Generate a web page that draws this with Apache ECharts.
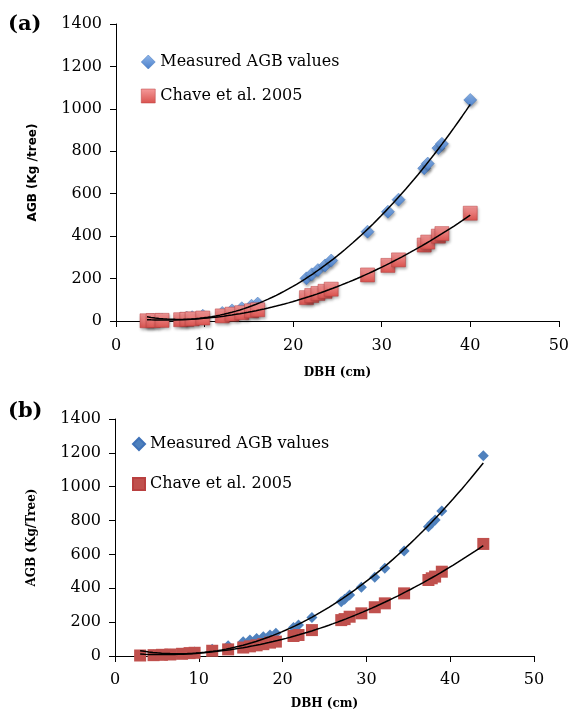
<!DOCTYPE html>
<html style='height: 100%'>
<head>
    <meta charset='utf-8'>
</head>
<body style='height: 100%; margin: 0; background: #fff'>
    <div id='container' style='width: 572px; height: 711px'></div>
    <script type='text/javascript' src='https://cdn.jsdelivr.net/npm/echarts@6/dist/echarts.min.js'></script>
    <script type="text/javascript">

// panel (a) - DBH (cm) and AGB (kg/tree)
var dbhA = [3.5, 4.2, 5.2, 7.3, 8.0, 8.6, 9.8, 12.0, 13.1, 14.2, 15.3, 16.0,
            21.5, 22.1, 22.8, 23.6, 24.3, 28.4, 30.7, 31.9, 34.8, 35.2, 36.4, 36.8, 40.0];
var measuredA = [3, 4, 6, 12, 15, 18, 25, 38, 50, 60, 72, 82,
                 201, 220, 240, 262, 285, 421, 515, 572, 720, 742, 815, 835, 1042];
var chaveA = [1, 2, 3, 6, 8, 10, 14, 24, 32, 39, 48, 53,
              110, 120, 130, 140, 150, 217, 262, 288, 358, 372, 400, 412, 508];

// panel (b)
var dbhB = [3.0, 4.6, 5.6, 6.6, 8.0, 8.9, 9.5, 11.6, 13.5, 15.3, 16.1, 16.9, 17.7, 18.5, 19.2,
            21.3, 21.9, 23.5, 27.0, 27.4, 28.0, 29.4, 31.0, 32.2, 34.5, 37.4, 37.8, 38.2, 39.0, 43.95];
var measuredB = [4, 6, 8, 11, 16, 20, 24, 40, 61, 84, 94, 104, 114, 124, 134,
                 169, 183, 228, 321, 335, 360, 406, 465, 518, 620, 764, 784, 803, 857, 1183];
var chaveB = [3, 5, 7, 9, 13, 17, 19, 31, 39, 50, 57, 63, 70, 79, 85,
              118, 124, 153, 212, 218, 232, 252, 288, 311, 370, 449, 459, 469, 498, 662];

var xTicks = [0, 10, 20, 30, 40, 50];
var yTicks = [0, 200, 400, 600, 800, 1000, 1200, 1400];

var nameMeasured = 'Measured AGB values';
var nameChave = 'Chave et al. 2005';

function pairs(xs, ys) {
    var out = [];
    for (var i = 0; i < xs.length; i++) out.push([xs[i], ys[i]]);
    return out;
}

// 2nd order polynomial trendline (least squares), like the spreadsheet one
function polyTrend(xs, ys) {
    var s = [0, 0, 0, 0, 0], t = [0, 0, 0];
    for (var i = 0; i < xs.length; i++) {
        var p = 1;
        for (var k = 0; k < 5; k++) { s[k] += p; if (k < 3) t[k] += p * ys[i]; p *= xs[i]; }
    }
    var m = [[s[0], s[1], s[2], t[0]], [s[1], s[2], s[3], t[1]], [s[2], s[3], s[4], t[2]]];
    for (var c = 0; c < 3; c++) {
        for (var r = c + 1; r < 3; r++) {
            var f = m[r][c] / m[c][c];
            for (var j = c; j < 4; j++) m[r][j] -= f * m[c][j];
        }
    }
    var b = [0, 0, 0];
    for (var r = 2; r >= 0; r--) {
        var v = m[r][3];
        for (var j = r + 1; j < 3; j++) v -= m[r][j] * b[j];
        b[r] = v / m[r][r];
    }
    var lo = Math.min.apply(null, xs), hi = Math.max.apply(null, xs);
    var pts = [];
    for (var n = 0; n <= 80; n++) {
        var x = lo + (hi - lo) * n / 80;
        pts.push([x, b[0] + b[1] * x + b[2] * x * x]);
    }
    return pts;
}

var serif = 'DejaVu Serif';

function grad(c1, c2) {
    return { type: 'linear', x: 0, y: 0, x2: 0, y2: 1, colorStops: [{ offset: 0, color: c1 }, { offset: 1, color: c2 }] };
}
var blueA = grad('#8fb6ea', '#4a7fc9');
var redA = grad('#f59a9a', '#d9534f');

function xAxisOpt(idx, gap, margin) {
    return {
        gridIndex: idx, type: 'value', min: xTicks[0], max: xTicks[xTicks.length - 1], interval: xTicks[1] - xTicks[0],
        name: 'DBH (cm)', nameLocation: 'middle', nameGap: gap,
        nameTextStyle: { fontFamily: serif, fontWeight: 'bold', fontSize: 12, color: '#000' },
        axisLine: { lineStyle: { color: '#000', width: 1 } },
        axisTick: { show: true, length: 6, lineStyle: { color: '#000' } },
        axisLabel: { fontFamily: serif, fontSize: 16, color: '#000', margin: margin },
        splitLine: { show: false }
    };
}
function yAxisOpt(idx, name, font) {
    return {
        gridIndex: idx, type: 'value', min: yTicks[0], max: yTicks[yTicks.length - 1], interval: yTicks[1] - yTicks[0],
        name: name, nameLocation: 'middle', nameGap: 77, nameRotate: 90,
        nameTextStyle: { fontFamily: font, fontWeight: 'bold', fontSize: 12, color: '#000' },
        axisLine: { show: true, lineStyle: { color: '#000', width: 1 } },
        axisTick: { show: true, length: 6, lineStyle: { color: '#000' } },
        axisLabel: { fontFamily: serif, fontSize: 16, color: '#000', margin: 14,
                     formatter: function (v) { return String(v); } },
        splitLine: { show: false }
    };
}

var chart = echarts.init(document.getElementById('container'));

var option = {
    backgroundColor: '#fff',
    animation: false,
    title: [
        { text: '(a)', left: 8, top: 14, padding: 0, textStyle: { fontFamily: serif, fontWeight: 'bold', fontSize: 21, color: '#000' } },
        { text: '(b)', left: 8, top: 401, padding: 0, textStyle: { fontFamily: serif, fontWeight: 'bold', fontSize: 21, color: '#000' } }
    ],
    grid: [
        { left: 116, top: 24, width: 443, height: 297 },
        { left: 115, top: 419, width: 419, height: 237 }
    ],
    legend: [
        {
            orient: 'vertical', left: 141, top: 52, padding: 0, itemWidth: 14, itemHeight: 14, itemGap: 14,
            selectedMode: false,
            textStyle: { fontFamily: serif, fontSize: 16, color: '#000', lineHeight: 20 },
            data: [
                { name: nameMeasured, icon: 'diamond', itemStyle: { color: blueA, borderColor: '#3f72b8', borderWidth: 0.5 } },
                { name: nameChave, icon: 'rect', itemStyle: { color: redA, borderColor: '#b94040', borderWidth: 0.5 } }
            ]
        },
        {
            orient: 'vertical', left: 132, top: 434, padding: 0, itemWidth: 12, itemHeight: 12, itemGap: 20,
            selectedMode: false,
            textStyle: { fontFamily: serif, fontSize: 16, color: '#000', lineHeight: 20 },
            data: [
                { name: nameMeasured, icon: 'diamond', itemStyle: { color: '#4f81bd' } },
                { name: nameChave, icon: 'rect', itemStyle: { color: '#c0504d' } }
            ]
        }
    ],
    xAxis: [xAxisOpt(0, 46, 17), xAxisOpt(1, 42, 16)],
    yAxis: [yAxisOpt(0, 'AGB (Kg /tree)', 'DejaVu Sans'), yAxisOpt(1, 'AGB (Kg/Tree)', serif)],
    series: [
        {
            name: nameMeasured, type: 'scatter', xAxisIndex: 0, yAxisIndex: 0,
            symbol: 'diamond', symbolSize: 13, data: pairs(dbhA, measuredA), z: 2,
            itemStyle: { color: blueA, borderColor: '#3f72b8', borderWidth: 0.5, opacity: 1,
                         shadowBlur: 3, shadowColor: 'rgba(0,0,0,0.35)', shadowOffsetX: 1, shadowOffsetY: 2 }
        },
        {
            name: nameChave, type: 'scatter', xAxisIndex: 0, yAxisIndex: 0,
            symbol: 'rect', symbolSize: 14, data: pairs(dbhA, chaveA), z: 3,
            itemStyle: { color: redA, borderColor: '#b94040', borderWidth: 0.5, opacity: 1,
                         shadowBlur: 3, shadowColor: 'rgba(0,0,0,0.35)', shadowOffsetX: 1, shadowOffsetY: 2 }
        },
        {
            type: 'line', xAxisIndex: 0, yAxisIndex: 0, data: polyTrend(dbhA, measuredA), z: 5,
            showSymbol: false, silent: true, lineStyle: { color: '#000', width: 1.5 }
        },
        {
            type: 'line', xAxisIndex: 0, yAxisIndex: 0, data: polyTrend(dbhA, chaveA), z: 5,
            showSymbol: false, silent: true, lineStyle: { color: '#000', width: 1.5 }
        },
        {
            name: nameMeasured, type: 'scatter', xAxisIndex: 1, yAxisIndex: 1,
            symbol: 'diamond', symbolSize: 11, data: pairs(dbhB, measuredB), z: 2,
            itemStyle: { color: '#4f81bd', opacity: 1 }
        },
        {
            name: nameChave, type: 'scatter', xAxisIndex: 1, yAxisIndex: 1,
            symbol: 'rect', symbolSize: 12, data: pairs(dbhB, chaveB), z: 3,
            itemStyle: { color: '#c0504d', opacity: 1 }
        },
        {
            type: 'line', xAxisIndex: 1, yAxisIndex: 1, data: polyTrend(dbhB, measuredB), z: 5,
            showSymbol: false, silent: true, lineStyle: { color: '#000', width: 1.5 }
        },
        {
            type: 'line', xAxisIndex: 1, yAxisIndex: 1, data: polyTrend(dbhB, chaveB), z: 5,
            showSymbol: false, silent: true, lineStyle: { color: '#000', width: 1.5 }
        }
    ]
};

if (option && typeof option === "object") {
    chart.setOption(option, true);
}
    </script>
</body>
</html>
